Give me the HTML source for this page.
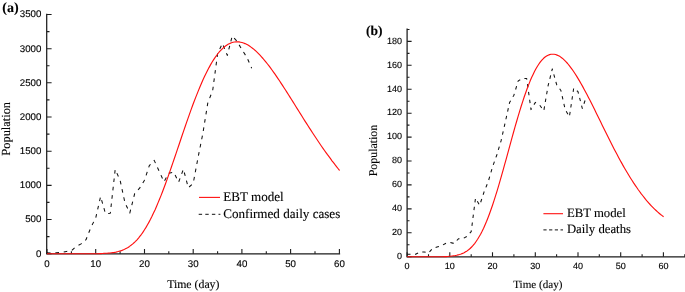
<!DOCTYPE html>
<html><head><meta charset="utf-8"><title>EBT model</title>
<style>html,body{margin:0;padding:0;background:#fff}svg{display:block}.sans{font-family:"Liberation Sans",sans-serif}.serif{font-family:"Liberation Serif",serif}text{text-rendering:geometricPrecision}.sans,.serif,.rot{filter:grayscale(1)}.rot{font-family:"Liberation Serif",serif}</style>
</head><body>
<svg width="685" height="292" viewBox="0 0 685 292">
<rect width="685" height="292" fill="#fff"/>
<path d="M46.70,14.3 V253.95 H339.5" fill="none" stroke="#1c1c1c" stroke-width="1.25" stroke-linecap="square"/>
<path d="M47.0,253.7 v-4.6M95.7,253.7 v-4.6M144.5,253.7 v-4.6M193.2,253.7 v-4.6M241.9,253.7 v-4.6M290.6,253.7 v-4.6M339.4,253.7 v-4.6M71.4,253.7 v-2.5M120.1,253.7 v-2.5M168.8,253.7 v-2.5M217.6,253.7 v-2.5M266.3,253.7 v-2.5M315.0,253.7 v-2.5M47.0,253.7 h4.6M47.0,219.5 h4.6M47.0,185.4 h4.6M47.0,151.2 h4.6M47.0,117.0 h4.6M47.0,82.8 h4.6M47.0,48.7 h4.6M47.0,14.5 h4.6M47.0,236.6 h2.5M47.0,202.4 h2.5M47.0,168.3 h2.5M47.0,134.1 h2.5M47.0,99.9 h2.5M47.0,65.8 h2.5M47.0,31.6 h2.5" fill="none" stroke="#1c1c1c" stroke-width="1.1"/>
<g class="sans" font-size="9.7" fill="#000" stroke="#000" stroke-width="0.14">
<text x="47.0" y="266.8" text-anchor="middle">0</text>
<text x="95.7" y="266.8" text-anchor="middle">10</text>
<text x="144.5" y="266.8" text-anchor="middle">20</text>
<text x="193.2" y="266.8" text-anchor="middle">30</text>
<text x="241.9" y="266.8" text-anchor="middle">40</text>
<text x="290.6" y="266.8" text-anchor="middle">50</text>
<text x="339.4" y="266.8" text-anchor="middle">60</text>
<text x="41.4" y="256.5" text-anchor="end">0</text>
<text x="41.4" y="222.3" text-anchor="end">500</text>
<text x="41.4" y="188.1" text-anchor="end">1000</text>
<text x="41.4" y="154.0" text-anchor="end">1500</text>
<text x="41.4" y="119.8" text-anchor="end">2000</text>
<text x="41.4" y="85.6" text-anchor="end">2500</text>
<text x="41.4" y="51.5" text-anchor="end">3000</text>
<text x="41.4" y="17.3" text-anchor="end">3500</text>
</g>
<path d="M47.0,252.8 L51.9,253.0 L56.7,252.7 L61.6,252.5 L66.5,251.4 L71.4,250.7 L76.2,246.5 L81.1,243.9 L86.0,239.7 L90.9,227.4 L95.7,218.0 L100.6,196.6 L105.5,213.7 L110.3,213.3 L115.2,169.4 L120.1,180.2 L125.0,202.9 L129.8,213.0 L134.7,193.5 L139.6,188.2 L144.5,180.2 L149.3,165.6 L154.2,160.4 L159.1,171.1 L164.0,181.7 L168.8,173.2 L173.7,172.2 L178.6,182.2 L183.4,169.2 L188.3,187.7 L193.2,183.4 L198.1,157.3 L202.9,133.3 L207.8,102.9 L212.7,90.4 L217.6,53.7 L222.4,43.5 L227.3,55.4 L232.2,36.0 L237.0,41.2 L241.9,49.6 L246.8,57.2 L251.7,68.2" fill="none" stroke="#111" stroke-width="1.05" stroke-dasharray="3.6 4.8" stroke-linejoin="round"/>
<path d="M47.0,253.7 L48.5,253.7 L50.0,253.7 L51.5,253.7 L53.0,253.7 L54.5,253.7 L56.0,253.7 L57.5,253.7 L59.0,253.7 L60.5,253.7 L62.0,253.7 L63.5,253.7 L65.0,253.7 L66.5,253.7 L68.0,253.7 L69.5,253.7 L71.0,253.7 L72.5,253.7 L74.0,253.7 L75.5,253.7 L77.0,253.7 L78.5,253.7 L80.0,253.7 L81.5,253.7 L83.0,253.7 L84.5,253.7 L86.0,253.7 L87.5,253.7 L89.0,253.7 L90.5,253.7 L92.0,253.7 L93.5,253.7 L95.0,253.7 L96.5,253.7 L98.0,253.7 L99.5,253.6 L101.0,253.6 L102.5,253.5 L104.0,253.4 L105.5,253.3 L107.0,253.2 L108.5,253.1 L110.0,253.0 L111.5,252.8 L113.0,252.6 L114.5,252.4 L116.0,252.1 L117.5,251.7 L119.0,251.3 L120.5,250.9 L122.0,250.4 L123.5,249.8 L125.0,249.1 L126.5,248.3 L128.0,247.4 L129.5,246.4 L131.0,245.3 L132.5,244.1 L134.0,242.8 L135.5,241.4 L137.0,239.8 L138.5,238.1 L140.0,236.2 L141.5,234.3 L143.0,232.1 L144.5,229.8 L146.0,227.4 L147.5,224.8 L149.0,222.1 L150.5,219.3 L152.0,216.3 L153.5,213.1 L155.0,209.9 L156.5,206.5 L158.0,202.9 L159.5,199.3 L161.0,195.6 L162.5,191.7 L164.0,187.7 L165.5,183.7 L167.0,179.6 L168.5,175.4 L170.0,171.1 L171.5,166.8 L173.0,162.4 L174.5,158.0 L176.0,153.6 L177.5,149.1 L179.0,144.7 L180.5,140.2 L182.0,135.8 L183.5,131.4 L185.0,127.0 L186.5,122.6 L188.0,118.4 L189.5,114.1 L191.0,109.9 L192.5,105.8 L194.0,101.8 L195.5,97.9 L197.0,94.1 L198.5,90.4 L200.0,86.7 L201.5,83.2 L203.0,79.8 L204.5,76.6 L206.0,73.5 L207.5,70.5 L209.0,67.6 L210.5,64.9 L212.0,62.3 L213.5,59.9 L215.0,57.6 L216.5,55.5 L218.0,53.5 L219.5,51.7 L221.0,50.1 L222.5,48.6 L224.0,47.2 L225.5,46.0 L227.0,45.0 L228.5,44.1 L230.0,43.4 L231.5,42.8 L233.0,42.3 L234.5,42.0 L236.0,41.9 L237.5,41.8 L239.0,41.9 L240.5,42.2 L242.0,42.5 L243.5,43.0 L245.0,43.6 L246.5,44.3 L248.0,45.1 L249.5,46.0 L251.0,47.1 L252.5,48.2 L254.0,49.4 L255.5,50.7 L257.0,52.1 L258.5,53.6 L260.0,55.2 L261.5,56.8 L263.0,58.5 L264.5,60.3 L266.0,62.1 L267.5,64.0 L269.0,65.9 L270.5,67.9 L272.0,70.0 L273.5,72.1 L275.0,74.2 L276.5,76.4 L278.0,78.6 L279.5,80.8 L281.0,83.1 L282.5,85.4 L284.0,87.7 L285.5,90.0 L287.0,92.4 L288.5,94.7 L290.0,97.1 L291.5,99.5 L293.0,101.9 L294.5,104.3 L296.0,106.7 L297.5,109.1 L299.0,111.5 L300.5,113.9 L302.0,116.3 L303.5,118.7 L305.0,121.1 L306.5,123.4 L308.0,125.8 L309.5,128.1 L311.0,130.4 L312.5,132.7 L314.0,135.0 L315.5,137.3 L317.0,139.5 L318.5,141.8 L320.0,144.0 L321.5,146.2 L323.0,148.3 L324.5,150.5 L326.0,152.6 L327.5,154.7 L329.0,156.7 L330.5,158.7 L332.0,160.8 L333.5,162.7 L335.0,164.7 L336.5,166.6 L338.0,168.5 L339.5,170.4 L339.6,170.5" fill="none" stroke="#ff1010" stroke-width="1.15" stroke-linejoin="round"/>
<path d="M407.10,29.1 V256.95 H685.5" fill="none" stroke="#1c1c1c" stroke-width="1.25" stroke-linecap="square"/>
<path d="M407.1,256.7 v-4.5M449.8,256.7 v-4.5M492.5,256.7 v-4.5M535.3,256.7 v-4.5M578.0,256.7 v-4.5M620.7,256.7 v-4.5M663.4,256.7 v-4.5M428.5,256.7 v-2.4M471.2,256.7 v-2.4M513.9,256.7 v-2.4M556.6,256.7 v-2.4M599.3,256.7 v-2.4M642.1,256.7 v-2.4M684.8,256.7 v-2.4M407.1,256.7 h4.5M407.1,232.8 h4.5M407.1,208.9 h4.5M407.1,184.9 h4.5M407.1,161.0 h4.5M407.1,137.1 h4.5M407.1,113.2 h4.5M407.1,89.3 h4.5M407.1,65.3 h4.5M407.1,41.4 h4.5M407.1,244.7 h2.4M407.1,220.8 h2.4M407.1,196.9 h2.4M407.1,173.0 h2.4M407.1,149.1 h2.4M407.1,125.1 h2.4M407.1,101.2 h2.4M407.1,77.3 h2.4M407.1,53.4 h2.4M407.1,29.5 h2.4" fill="none" stroke="#1c1c1c" stroke-width="1.1"/>
<g class="sans" font-size="9.0" fill="#000" stroke="#000" stroke-width="0.14">
<text x="407.1" y="268.8" text-anchor="middle">0</text>
<text x="449.8" y="268.8" text-anchor="middle">10</text>
<text x="492.5" y="268.8" text-anchor="middle">20</text>
<text x="535.3" y="268.8" text-anchor="middle">30</text>
<text x="578.0" y="268.8" text-anchor="middle">40</text>
<text x="620.7" y="268.8" text-anchor="middle">50</text>
<text x="663.4" y="268.8" text-anchor="middle">60</text>
<text x="402.1" y="258.9" text-anchor="end">0</text>
<text x="402.1" y="235.0" text-anchor="end">20</text>
<text x="402.1" y="211.1" text-anchor="end">40</text>
<text x="402.1" y="187.2" text-anchor="end">60</text>
<text x="402.1" y="163.2" text-anchor="end">80</text>
<text x="402.1" y="139.3" text-anchor="end">100</text>
<text x="402.1" y="115.4" text-anchor="end">120</text>
<text x="402.1" y="91.5" text-anchor="end">140</text>
<text x="402.1" y="67.6" text-anchor="end">160</text>
<text x="402.1" y="43.6" text-anchor="end">180</text>
</g>
<path d="M407.1,254.3 L411.4,254.3 L415.6,254.3 L419.9,251.9 L424.2,251.9 L428.5,253.1 L432.7,248.3 L437.0,247.1 L441.3,245.9 L445.5,243.5 L449.8,242.3 L454.1,243.5 L458.4,238.8 L462.6,238.8 L466.9,236.4 L471.2,231.6 L475.5,198.1 L479.7,205.3 L484.0,192.1 L488.3,181.4 L492.5,167.0 L496.8,155.0 L501.1,140.7 L505.4,121.6 L509.6,102.4 L513.9,95.2 L518.2,80.9 L522.4,78.5 L526.7,78.5 L531.0,109.6 L535.3,102.4 L539.5,104.8 L543.8,110.8 L548.1,85.7 L552.3,68.9 L556.6,84.5 L560.9,90.5 L565.2,109.6 L569.4,116.8 L573.7,88.1 L578.0,91.7 L582.3,108.4 L586.5,96.4" fill="none" stroke="#111" stroke-width="1.05" stroke-dasharray="3.4 4.5" stroke-linejoin="round"/>
<path d="M407.1,256.7 L408.6,256.7 L410.1,256.7 L411.6,256.7 L413.1,256.7 L414.6,256.7 L416.1,256.7 L417.6,256.7 L419.1,256.7 L420.6,256.7 L422.1,256.7 L423.6,256.7 L425.1,256.7 L426.6,256.7 L428.1,256.7 L429.6,256.7 L431.1,256.7 L432.6,256.7 L434.1,256.7 L435.6,256.7 L437.1,256.7 L438.6,256.7 L440.1,256.7 L441.6,256.7 L443.1,256.7 L444.6,256.6 L446.1,256.6 L447.6,256.5 L449.1,256.3 L450.6,256.2 L452.1,256.0 L453.6,255.8 L455.1,255.6 L456.6,255.3 L458.1,254.9 L459.6,254.5 L461.1,254.0 L462.6,253.4 L464.1,252.7 L465.6,251.8 L467.1,250.9 L468.6,249.8 L470.1,248.5 L471.6,247.0 L473.1,245.4 L474.6,243.6 L476.1,241.5 L477.6,239.3 L479.1,236.8 L480.6,234.2 L482.1,231.3 L483.6,228.2 L485.1,224.8 L486.6,221.3 L488.1,217.5 L489.6,213.5 L491.1,209.3 L492.6,205.0 L494.1,200.4 L495.6,195.7 L497.1,190.8 L498.6,185.8 L500.1,180.6 L501.6,175.4 L503.1,170.1 L504.6,164.7 L506.1,159.3 L507.6,153.8 L509.1,148.3 L510.6,142.9 L512.1,137.4 L513.6,132.0 L515.1,126.7 L516.6,121.5 L518.1,116.4 L519.6,111.4 L521.1,106.5 L522.6,101.8 L524.1,97.3 L525.6,93.0 L527.1,88.8 L528.6,84.9 L530.1,81.1 L531.6,77.6 L533.1,74.4 L534.6,71.3 L536.1,68.5 L537.6,66.0 L539.1,63.7 L540.6,61.7 L542.1,59.9 L543.6,58.3 L545.1,57.0 L546.6,56.0 L548.1,55.2 L549.6,54.6 L551.1,54.3 L552.6,54.2 L554.1,54.2 L555.6,54.5 L557.1,55.1 L558.6,55.7 L560.1,56.6 L561.6,57.7 L563.1,58.9 L564.6,60.3 L566.1,61.8 L567.6,63.5 L569.1,65.3 L570.6,67.3 L572.1,69.3 L573.6,71.5 L575.1,73.8 L576.6,76.1 L578.1,78.6 L579.6,81.1 L581.1,83.7 L582.6,86.4 L584.1,89.2 L585.6,92.0 L587.1,94.8 L588.6,97.7 L590.1,100.6 L591.6,103.6 L593.1,106.6 L594.6,109.6 L596.1,112.7 L597.6,115.7 L599.1,118.8 L600.6,121.8 L602.1,124.9 L603.6,128.0 L605.1,131.0 L606.6,134.0 L608.1,137.1 L609.6,140.1 L611.1,143.0 L612.6,146.0 L614.1,148.9 L615.6,151.8 L617.1,154.6 L618.6,157.4 L620.1,160.2 L621.6,162.9 L623.1,165.6 L624.6,168.2 L626.1,170.8 L627.6,173.3 L629.1,175.8 L630.6,178.2 L632.1,180.5 L633.6,182.9 L635.1,185.1 L636.6,187.3 L638.1,189.5 L639.6,191.5 L641.1,193.6 L642.6,195.5 L644.1,197.4 L645.6,199.3 L647.1,201.1 L648.6,202.8 L650.1,204.5 L651.6,206.1 L653.1,207.6 L654.6,209.1 L656.1,210.5 L657.6,211.9 L659.1,213.2 L660.6,214.5 L662.1,215.6 L663.6,216.8" fill="none" stroke="#ff1010" stroke-width="1.15" stroke-linejoin="round"/>
<path d="M199,197.4 H220" stroke="#ff1010" stroke-width="1.1"/>
<path d="M198.7,214.3 H220.4" stroke="#111" stroke-width="1.0" stroke-dasharray="3.4 3.2"/>
<path d="M543.4,213.7 H563" stroke="#ff1010" stroke-width="1.1"/>
<path d="M543.4,229.9 H563" stroke="#111" stroke-width="1.0" stroke-dasharray="3.2 2.5"/>
<g class="serif" fill="#000" stroke="#000" stroke-width="0.12">
<text x="223.2" y="200.6" font-size="13.1">EBT model</text>
<text x="223.2" y="217.5" font-size="13.1">Confirmed daily cases</text>
<text x="566.9" y="217" font-size="12.75">EBT model</text>
<text x="566.9" y="232.9" font-size="12.75">Daily deaths</text>
<text x="193.3" y="288.0" font-size="11.8" text-anchor="middle">Time (day)</text>
<text x="537.8" y="288.3" font-size="11.1" text-anchor="middle">Time (day)</text>
<text x="2.3" y="12.2" font-size="14" font-weight="bold">(a)</text>
<text x="366" y="35.4" font-size="13.5" font-weight="bold">(b)</text>
</g>
<text class="rot" fill="#000" stroke="#000" transform="translate(10.2,128.8) rotate(-90)" font-size="12.4" text-anchor="middle" stroke-width="0.1">Population</text>
<text class="rot" fill="#000" stroke="#000" transform="translate(377.4,150.5) rotate(-90)" font-size="11.9" text-anchor="middle" stroke-width="0.1">Population</text>
</svg>
</body></html>
